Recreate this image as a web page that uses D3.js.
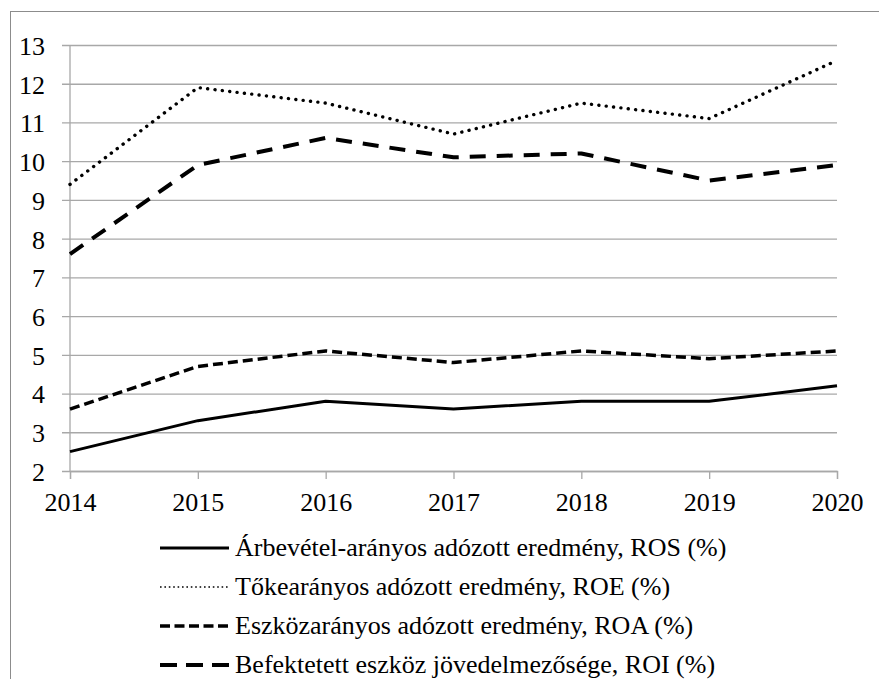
<!DOCTYPE html>
<html>
<head>
<meta charset="utf-8">
<script src="https://cdn.jsdelivr.net/npm/d3@7/dist/d3.min.js"></script>
</head>
<body style="margin:0;font-family:Liberation Serif, Times New Roman, serif">
<svg id="s" width="879" height="679" style="font-family:Liberation Serif, Times New Roman, serif"></svg>
<script>
const years = [2014, 2015, 2016, 2017, 2018, 2019, 2020];
const yTicks = [2, 3, 4, 5, 6, 7, 8, 9, 10, 11, 12, 13];
const seriesNames = [
  'Árbevétel-arányos adózott eredmény, ROS (%)',
  'Tőkearányos adózott eredmény, ROE (%)',
  'Eszközarányos adózott eredmény, ROA (%)',
  'Befektetett eszköz jövedelmezősége, ROI (%)'
];
const ros = [2.5, 3.3, 3.8, 3.6, 3.8, 3.8, 4.2];
const roe = [9.4, 11.9, 11.5, 10.7, 11.5, 11.1, 12.6];
const roa = [3.6, 4.7, 5.1, 4.8, 5.1, 4.9, 5.1];
const roi = [7.6, 9.9, 10.6, 10.1, 10.2, 9.5, 9.9];

// line looks, same order as seriesNames
const styles = [
  {values: ros, width: 3, dash: null, legendWidth: 3, legendDash: null},
  {values: roe, width: 3.4, dash: '0.1,7.3', cap: 'round', legendWidth: 1.6, legendDash: '1.6,2.8'},
  {values: roa, width: 3.5, dash: '10,5', legendWidth: 3.5, legendDash: '10,4.5'},
  {values: roi, width: 4, dash: '16,11', legendWidth: 4, legendDash: '17,9'}
];

const plot = {left: 70, right: 837, top: 45, bottom: 471};
const grid = '#a8a8a8';
const serif = 'Liberation Serif, Times New Roman, serif';

const svg = d3.select('#s');

// outer frame, runs off the right and bottom edge like the original
svg.append('rect')
  .attr('x', 10.5).attr('y', 11.5)
  .attr('width', 900).attr('height', 700)
  .attr('fill', 'none')
  .attr('stroke', '#8c8c8c')
  .attr('stroke-width', 1);

const x = d3.scaleLinear()
  .domain([years[0], years[years.length - 1]])
  .range([plot.left, plot.right]);

const y = d3.scaleLinear()
  .domain([2, 13])
  .range([plot.bottom, plot.top]);

// horizontal gridlines + y labels
const yAxis = svg.append('g')
  .attr('transform', `translate(${plot.right},0)`)
  .call(d3.axisLeft(y).tickValues(yTicks).tickSize(plot.right - 62).tickPadding(17).tickFormat(d3.format('d')))
  .attr('font-family', serif);
yAxis.select('.domain').remove();
yAxis.selectAll('.tick line').attr('stroke', grid).attr('stroke-width', 1.3);
yAxis.selectAll('.tick text')
  .style('font-family', serif)
  .style('font-size', '26px')
  .attr('dy', '0.36em');

// vertical axis line
svg.append('line')
  .attr('x1', plot.left).attr('x2', plot.left)
  .attr('y1', plot.top).attr('y2', plot.bottom)
  .attr('stroke', grid).attr('stroke-width', 1.3);

// x axis
const xAxis = svg.append('g')
  .attr('transform', `translate(0,${plot.bottom})`)
  .call(d3.axisBottom(x).tickValues(years).tickSize(8).tickPadding(14).tickFormat(d3.format('d')))
  .attr('font-family', serif);
xAxis.select('.domain').attr('stroke', grid).attr('stroke-width', 1.3);
xAxis.selectAll('.tick line').attr('stroke', grid).attr('stroke-width', 1.3);
xAxis.selectAll('.tick text')
  .style('font-family', serif)
  .style('font-size', '26px');

const line = d3.line()
  .x((d, i) => x(years[i]))
  .y(d => y(d));

styles.forEach(s => {
  svg.append('path')
    .datum(s.values)
    .attr('d', line)
    .attr('fill', 'none')
    .attr('stroke', '#000')
    .attr('stroke-width', s.width)
    .attr('stroke-linecap', s.cap || 'butt')
    .attr('stroke-linejoin', 'round')
    .attr('stroke-dasharray', s.dash);
});

// legend
const rowY = d3.scalePoint()
  .domain(seriesNames)
  .range([548, 665]);

seriesNames.forEach((name, i) => {
  const s = styles[i];
  svg.append('line')
    .attr('x1', 160).attr('x2', 229)
    .attr('y1', rowY(name)).attr('y2', rowY(name))
    .attr('stroke', '#000')
    .attr('stroke-width', s.legendWidth)
    .attr('stroke-dasharray', s.legendDash);
  svg.append('text')
    .attr('x', 235)
    .attr('y', rowY(name))
    .attr('dy', '0.32em')
    .style('font-family', serif)
    .style('font-size', '26px')
    .text(name);
});
</script>
</body>
</html>
